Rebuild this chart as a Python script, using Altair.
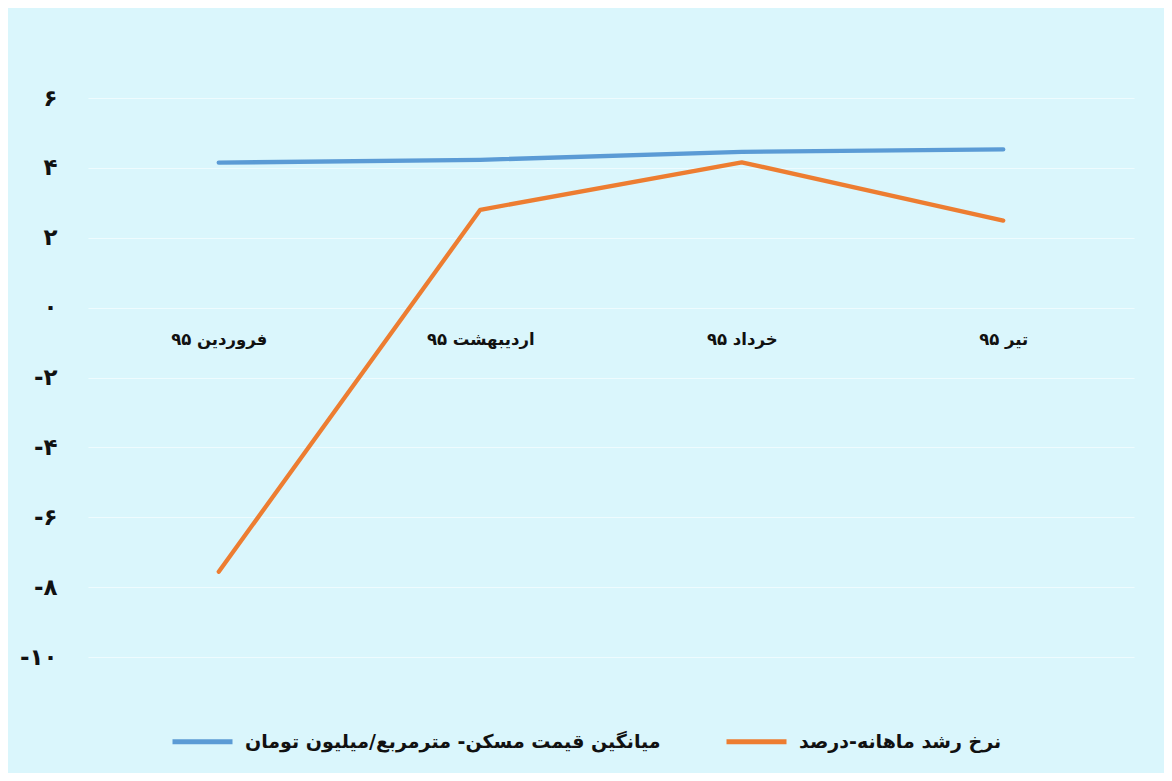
import altair as alt
import pandas as pd

months = ["فروردین ۹۵", "اردیبهشت ۹۵", "خرداد ۹۵", "تیر ۹۵"]
price_label = "میانگین قیمت مسکن- مترمربع/میلیون تومان"
growth_label = "نرخ رشد ماهانه-درصد"
price = [4.15, 4.23, 4.46, 4.53]
growth = [-7.56, 2.80, 4.16, 2.49]
y_ticks = [-10, -8, -6, -4, -2, 0, 2, 4, 6]
y_tick_labels = ["-۱۰", "-۸", "-۶", "-۴", "-۲", "۰", "۲", "۴", "۶"]

rows = []
for m, v in zip(months, price):
    rows.append({"month": m, "value": v, "series": price_label})
for m, v in zip(months, growth):
    rows.append({"month": m, "value": v, "series": growth_label})
df = pd.DataFrame(rows)

W, H = 1046, 559
ymin, ymax = -10, 6
x_offset = -H * (0 - ymin) / (ymax - ymin)

label_expr = " : ".join(
    f"datum.value == {t} ? '{l}'" for t, l in zip(y_ticks, y_tick_labels)
) + " : ''"

FONT = "DejaVu Sans"

chart = (
    alt.Chart(df)
    .mark_line(strokeWidth=4.3, strokeCap="round", strokeJoin="round")
    .encode(
        x=alt.X(
            "month:N",
            sort=months,
            scale=alt.Scale(type="point", padding=0.5),
            axis=alt.Axis(
                title=None,
                orient="bottom",
                offset=x_offset,
                domain=False,
                ticks=False,
                grid=False,
                labelAngle=0,
                labelPadding=24,
                labelFont=FONT,
                labelFontSize=16.5,
                labelFontWeight="bold",
                labelColor="#111111",
            ),
        ),
        y=alt.Y(
            "value:Q",
            scale=alt.Scale(domain=[ymin, ymax], nice=False, zero=False),
            axis=alt.Axis(
                title=None,
                values=y_ticks,
                labelExpr=label_expr,
                domain=False,
                ticks=False,
                grid=True,
                gridColor="#EEFBFE",
                gridWidth=1.2,
                labelPadding=31,
                labelFont=FONT,
                labelFontSize=23,
                labelFontWeight="bold",
                labelColor="#111111",
            ),
        ),
        color=alt.Color(
            "series:N",
            sort=[price_label, growth_label],
            scale=alt.Scale(
                domain=[price_label, growth_label],
                range=["#5B9BD5", "#ED7D31"],
            ),
            legend=alt.Legend(
                title=None,
                orient="none",
                direction="horizontal",
                legendX=82,
                legendY=611,
                symbolType="stroke",
                symbolSize=3600,
                symbolStrokeWidth=5,
                labelFont=FONT,
                labelFontSize=19,
                labelFontWeight="bold",
                labelColor="#111111",
                labelOffset=10,
                columnPadding=55,
                labelLimit=600,
            ),
        ),
    )
    .properties(
        width=W,
        height=H,
        background="#DAF6FC",
        padding={"left": 80, "top": 90, "right": 30, "bottom": 116},
        autosize=alt.AutoSizeParams(type="none"),
    )
    .configure_view(stroke=None)
)

chart.save("out.html", embed_options={"renderer": "svg", "actions": False})
